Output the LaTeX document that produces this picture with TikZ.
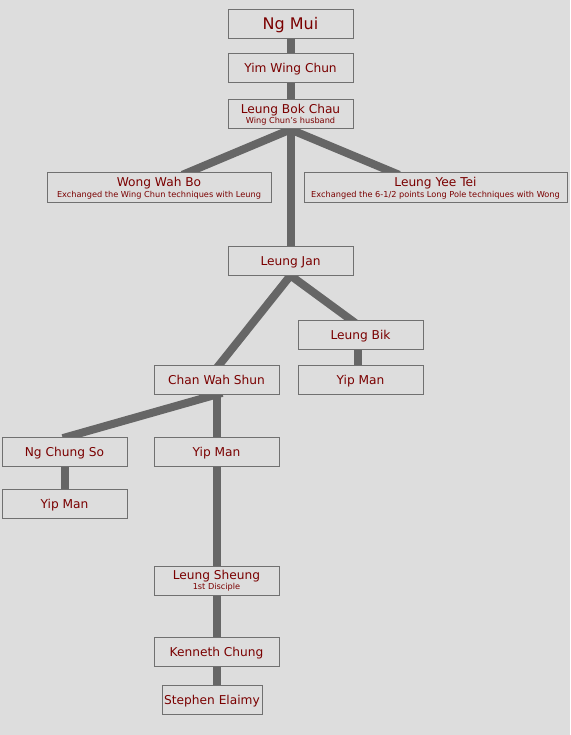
\documentclass[tikz,border=0pt]{standalone}
\usepackage{fontspec}
\setmainfont{DejaVu Sans}
\usetikzlibrary{calc}
\pgfdeclarelayer{back}
\pgfsetlayers{back,main}
\definecolor{bgc}{HTML}{DDDDDD}
\definecolor{linec}{HTML}{666666}
\definecolor{boxline}{HTML}{707070}
\definecolor{txt}{HTML}{7A0000}
\newcommand{\nmfont}{\fontsize{12.2}{14}\selectfont}
\newcommand{\bigfont}{\fontsize{16}{18}\selectfont}
\newcommand{\subfnt}{\fontsize{8.2}{9}\selectfont}
\tikzset{
  person/.style={draw=boxline, line width=1pt, fill=bgc, text=txt, font=\nmfont,
    minimum width=125pt, minimum height=29pt, inner sep=0pt, align=center},
  single/.style={text height=9.5pt, text depth=0.5pt},
  link/.style={draw=linec, line width=8pt, shorten <=-6pt, shorten >=-6pt},
}
\begin{document}
\begin{tikzpicture}[x=1pt,y=-1pt]
\useasboundingbox (0,0) rectangle (570,735);
% nodes
\node[person, font=\bigfont, text height=12pt, text depth=1pt] (ngmui) at (290.5,24.5) {Ng Mui};
\node[person, single] (yim) at (290.5,68.5) {Yim Wing Chun};
\node[person] (bok) at (290.5,114.5) {Leung Bok Chau\\[-3.5pt]{\subfnt Wing Chun's husband}};
\node[person, minimum width=224pt, minimum height=30pt] (wong) at (159,188) {Wong Wah Bo\\[-3pt]{\subfnt Exchanged the Wing Chun techniques with Leung}};
\node[person, minimum width=263pt, minimum height=30pt] (yee) at (435.5,188) {Leung Yee Tei\\[-3pt]{\subfnt Exchanged the 6-1/2 points Long Pole techniques with Wong}};
\node[person, single] (jan) at (290.5,260.5) {Leung Jan};
\node[person, single] (bik) at (360.5,334.5) {Leung Bik};
\node[person, single] (ymA) at (360.5,379.5) {Yip Man};
\node[person, single] (chan) at (216.5,379.5) {Chan Wah Shun};
\node[person, single] (ngchung) at (64.5,451.5) {Ng Chung So};
\node[person, single] (ymB) at (216.5,451.5) {Yip Man};
\node[person, single] (ymC) at (64.5,503.5) {Yip Man};
\node[person] (sheung) at (216.5,580.5) {Leung Sheung\\[-3.5pt]{\subfnt 1st Disciple}};
\node[person, single] (kenneth) at (216.5,651.5) {Kenneth Chung};
\node[person, single, minimum width=100pt] (stephen) at (212,699.5) {Stephen Elaimy};
% background and connectors behind nodes
\begin{pgfonlayer}{back}
\fill[bgc] (0,0) rectangle (570,735);
\draw[link] (ngmui.south) -- (yim.north);
\draw[link] (yim.south) -- (bok.north);
\draw[link] (bok.south) -- ($(wong.north)+(29,0)$);
\draw[link] (bok.south) -- ($(yee.north)+(-42,0)$);
\draw[link] (bok.south) -- (jan.north);
\draw[link] (jan.south) -- ($(chan.north)+(3,0)$);
\draw[link] (jan.south) -- ($(bik.north)+(-10,0)$);
\draw[link] ($(bik.south)+(-3,0)$) -- ($(ymA.north)+(-3,0)$);
\draw[link] (chan.south) -- ($(ngchung.north)+(4,0)$);
\draw[link] (chan.south) -- (ymB.north);
\draw[link] (ngchung.south) -- (ymC.north);
\draw[link] (ymB.south) -- (sheung.north);
\draw[link] (sheung.south) -- (kenneth.north);
\draw[link] (kenneth.south) -- (kenneth.south |- stephen.north);
\end{pgfonlayer}
\end{tikzpicture}
\end{document}
